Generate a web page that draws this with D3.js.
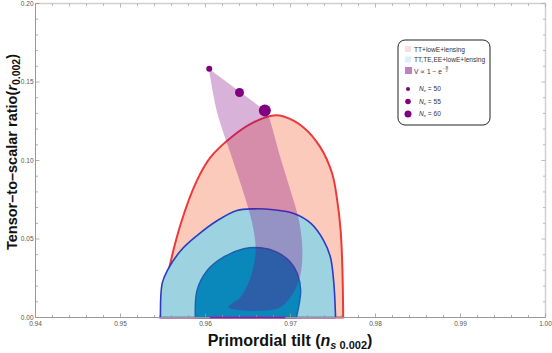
<!DOCTYPE html>
<html>
<head>
<meta charset="utf-8">
<script src="https://cdn.jsdelivr.net/npm/d3@7"></script>
<style>
  body { margin: 0; background: #fff; }
  text { font-family: "Liberation Sans", Arial, sans-serif; }
</style>
</head>
<body>
<div id="chart"></div>
<script>
// contour outlines, [ns, r]
const red95 = [[0.9547, 0], [0.9555, 0.0257], [0.9571, 0.0599], [0.9590, 0.0873], [0.9606, 0.1021],
  [0.9633, 0.1159], [0.9657, 0.1244], [0.9680, 0.1287], [0.9692, 0.1280], [0.9715, 0.1212],
  [0.9735, 0.1085], [0.9749, 0.0917], [0.9755, 0.0745], [0.9759, 0.0554], [0.9761, 0.0320], [0.9762, 0]];
const blue95 = [[0.9547, 0], [0.9549, 0.0217], [0.9555, 0.0299], [0.9571, 0.0427], [0.9590, 0.0522],
  [0.9614, 0.0618], [0.9637, 0.0682], [0.9657, 0.0692], [0.9680, 0.0686], [0.9704, 0.0662],
  [0.9724, 0.0599], [0.9739, 0.0490], [0.9747, 0.0384], [0.9751, 0.0217], [0.9753, 0]];
const blue68 = [[0.9588, 0], [0.9590, 0.0172], [0.9602, 0.0299], [0.9621, 0.0384], [0.9645, 0.0438],
  [0.9665, 0.0444], [0.9684, 0.0416], [0.9700, 0.0352], [0.9708, 0.0280], [0.9712, 0.0172], [0.9707, 0]];
// model band: right edge top to bottom, then left edge bottom to top
const bandRight = [[0.9670, 0.1318], [0.9673, 0.1297], [0.9688, 0.1021], [0.9700, 0.0809], [0.9710, 0.0618],
  [0.9714, 0.0427], [0.9711, 0.0257], [0.9700, 0.0129], [0.9684, 0.0055]];
const bandLeft = [[0.9627, 0.0066], [0.9641, 0.0129], [0.9653, 0.0257], [0.9659, 0.0427], [0.9655, 0.0599],
  [0.9645, 0.0790], [0.9631, 0.1021], [0.9614, 0.1299], [0.9604, 0.1584]];
const efolds = [50, 55, 60];
const efoldNs = [0.96044, 0.96400, 0.96698];
const efoldR = [0.1584, 0.1433, 0.1318];
const efoldSize = [3, 4.5, 6];
const axisLine = [0.9605, 0.9694];

const xTicks = [0.94, 0.95, 0.96, 0.97, 0.98, 0.99, 1.00];
const yTicks = [0.00, 0.05, 0.10, 0.15, 0.20];
const legendLabels = ["TT+lowE+lensing", "TT,TE,EE+lowE+lensing"];

const width = 552, height = 353;
const svg = d3.select("#chart").append("svg").attr("width", width).attr("height", height);

const x = d3.scaleLinear().domain([0.94, 1.00]).range([35.5, 545.5]);
const y = d3.scaleLinear().domain([0, 0.20]).range([317.5, 3.5]);

function contour(pts) {
  const l = d3.line().x(d => x(d[0])).y(d => y(d[1])).curve(d3.curveCatmullRom.alpha(0.5));
  return l(pts) + "Z";
}

svg.append("path").attr("d", contour(red95))
  .attr("fill", "#fbcabb").attr("stroke", "#ea3a3c").attr("stroke-width", 2);
svg.append("path").attr("d", contour(blue95))
  .attr("fill", "#9dd3e0").attr("stroke", "#2a3cc4").attr("stroke-width", 1.6);
svg.append("path").attr("d", contour(blue68))
  .attr("fill", "#0a88bb").attr("stroke", "#1e5fb0").attr("stroke-width", 1.4);

// band
const bandPts = bandRight.concat(bandLeft);
const bandPath = d3.line().x(d => x(d[0])).y(d => y(d[1])).curve(d3.curveCatmullRom.alpha(0.5))(bandPts) + "Z";
svg.append("path").attr("d", bandPath).attr("fill", "rgb(128,0,128)").attr("fill-opacity", 0.3);

// frame
svg.append("line").attr("x1", x(0.94)).attr("x2", x(1.0)).attr("y1", y(0.2)).attr("y2", y(0.2))
  .attr("stroke", "#d0d0d0").attr("stroke-width", 1.5);
svg.append("line").attr("x1", x(1.0)).attr("x2", x(1.0)).attr("y1", y(0)).attr("y2", y(0.2))
  .attr("stroke", "#d0d0d0").attr("stroke-width", 1.5);

const xMinor = d3.range(0, 31).map(i => 0.94 + i * 0.002);
const yMinor = d3.range(0, 21).map(i => i * 0.01);
const isMajorX = v => Math.abs(v * 100 - Math.round(v * 100)) < 1e-6;
const isMajorY = v => Math.abs(v * 20 - Math.round(v * 20)) < 1e-6;

const gAx = svg.append("g");
gAx.selectAll(".xt").data(xMinor).enter().append("line")
  .attr("x1", d => x(d)).attr("x2", d => x(d))
  .attr("y1", y(0)).attr("y2", d => y(0) - (isMajorX(d) ? 4 : 2.5))
  .attr("stroke", "#999").attr("stroke-width", 0.8);
gAx.selectAll(".xtt").data(xMinor).enter().append("line")
  .attr("x1", d => x(d)).attr("x2", d => x(d))
  .attr("y1", y(0.2)).attr("y2", d => y(0.2) + (isMajorX(d) ? 4 : 2.5))
  .attr("stroke", "#aaa").attr("stroke-width", 0.8);
gAx.selectAll(".yt").data(yMinor).enter().append("line")
  .attr("y1", d => y(d)).attr("y2", d => y(d))
  .attr("x1", x(0.94)).attr("x2", d => x(0.94) + (isMajorY(d) ? 4 : 2.5))
  .attr("stroke", "#999").attr("stroke-width", 0.8);
gAx.selectAll(".ytr").data(yMinor).enter().append("line")
  .attr("y1", d => y(d)).attr("y2", d => y(d))
  .attr("x1", x(1.0)).attr("x2", d => x(1.0) - (isMajorY(d) ? 4 : 2.5))
  .attr("stroke", "#aaa").attr("stroke-width", 0.8);

gAx.append("line").attr("x1", x(0.94)).attr("x2", x(1.0)).attr("y1", y(0)).attr("y2", y(0))
  .attr("stroke", "#999").attr("stroke-width", 1);
gAx.append("line").attr("x1", x(0.94)).attr("x2", x(0.94)).attr("y1", y(0)).attr("y2", y(0.2))
  .attr("stroke", "#999").attr("stroke-width", 1);

gAx.selectAll(".xl").data(xTicks).enter().append("text")
  .attr("x", d => x(d)).attr("y", y(0) + 8.5)
  .attr("text-anchor", "middle").attr("font-size", 6.5).attr("fill", "#555")
  .text(d => d.toFixed(2));
gAx.selectAll(".yl").data(yTicks).enter().append("text")
  .attr("x", x(0.94) - 2).attr("y", d => y(d) + 2.2)
  .attr("text-anchor", "end").attr("font-size", 6.5).attr("fill", "#555")
  .text(d => d.toFixed(2));

// line along the axis
svg.append("line").attr("x1", x(axisLine[0])).attr("x2", x(axisLine[1]))
  .attr("y1", y(0)).attr("y2", y(0))
  .attr("stroke", "#9a1a9a").attr("stroke-width", 1.5);

// e-fold points
svg.selectAll(".dot").data(efolds).enter().append("circle")
  .attr("cx", (d, i) => x(efoldNs[i])).attr("cy", (d, i) => y(efoldR[i]))
  .attr("r", (d, i) => efoldSize[i]).attr("fill", "#800080");

// legend
const lg = svg.append("g");
lg.append("rect").attr("x", 398).attr("y", 40).attr("width", 92).attr("height", 85)
  .attr("rx", 7).attr("fill", "#fff").attr("stroke", "#222").attr("stroke-width", 1);
const swatchCol = ["#fddede", "#ddeefc"];
legendLabels.forEach((t, i) => {
  lg.append("rect").attr("x", 405).attr("y", 46 + i * 10.5).attr("width", 6).attr("height", 6).attr("fill", swatchCol[i]);
  lg.append("text").attr("x", 414).attr("y", 51.5 + i * 10.5).attr("font-size", 6.6).attr("fill", "#333").text(t);
});
lg.append("rect").attr("x", 405).attr("y", 67).attr("width", 7).attr("height", 7).attr("fill", "#c080c0");
const vt = lg.append("text").attr("x", 414).attr("y", 73.5).attr("font-size", 6.6).attr("fill", "#333")
  .text("V \u221D 1 \u2212 e");
const ex = 414 + vt.node().getComputedTextLength() + 0.8;
lg.append("text").attr("x", ex).attr("y", 69.5).attr("font-size", 3.5).attr("fill", "#333").text("\u2212");
lg.append("text").attr("x", ex + 3).attr("y", 67.5).attr("font-size", 3.5).attr("fill", "#333").text("\u03C6");
lg.append("line").attr("x1", ex + 2.6).attr("x2", ex + 5.6).attr("y1", 68.6).attr("y2", 68.6).attr("stroke", "#333").attr("stroke-width", 0.3);
lg.append("text").attr("x", ex + 3).attr("y", 72).attr("font-size", 3.5).attr("fill", "#333").text("2");

efolds.forEach((n, i) => {
  const yy = 89 + i * 12.5;
  lg.append("circle").attr("cx", 408).attr("cy", yy).attr("r", [2, 2.8, 3.5][i]).attr("fill", "#800080");
  const t = lg.append("text").attr("x", 419).attr("y", yy + 2).attr("font-size", 6.6).attr("fill", "#333");
  t.append("tspan").attr("font-style", "italic").text("N");
  t.append("tspan").attr("font-size", 4).attr("dy", 1).text("e");
  t.append("tspan").attr("dy", -1).text(" = " + n);
});

// axis titles
const yt = svg.append("text").attr("transform", "translate(17,152) rotate(-90)")
  .attr("text-anchor", "middle").attr("font-size", 14.5).attr("font-weight", "bold").attr("fill", "#111");
yt.append("tspan").text("Tensor\u2013to\u2013scalar ratio(");
yt.append("tspan").attr("font-style", "italic").text("r");
yt.append("tspan").attr("font-size", 10.5).attr("dy", 3).text("0.002");
yt.append("tspan").attr("dy", -3).text(")");

const xt = svg.append("text").attr("x", 290).attr("y", 346)
  .attr("text-anchor", "middle").attr("font-size", 16).attr("font-weight", "bold").attr("fill", "#111");
xt.append("tspan").text("Primordial tilt (");
xt.append("tspan").attr("font-style", "italic").text("n");
xt.append("tspan").attr("font-size", 11).attr("dy", 3).attr("font-style", "italic").text("s");
xt.append("tspan").attr("font-size", 11).text(" 0.002");
xt.append("tspan").attr("dy", -3).text(")");
</script>
</body>
</html>
